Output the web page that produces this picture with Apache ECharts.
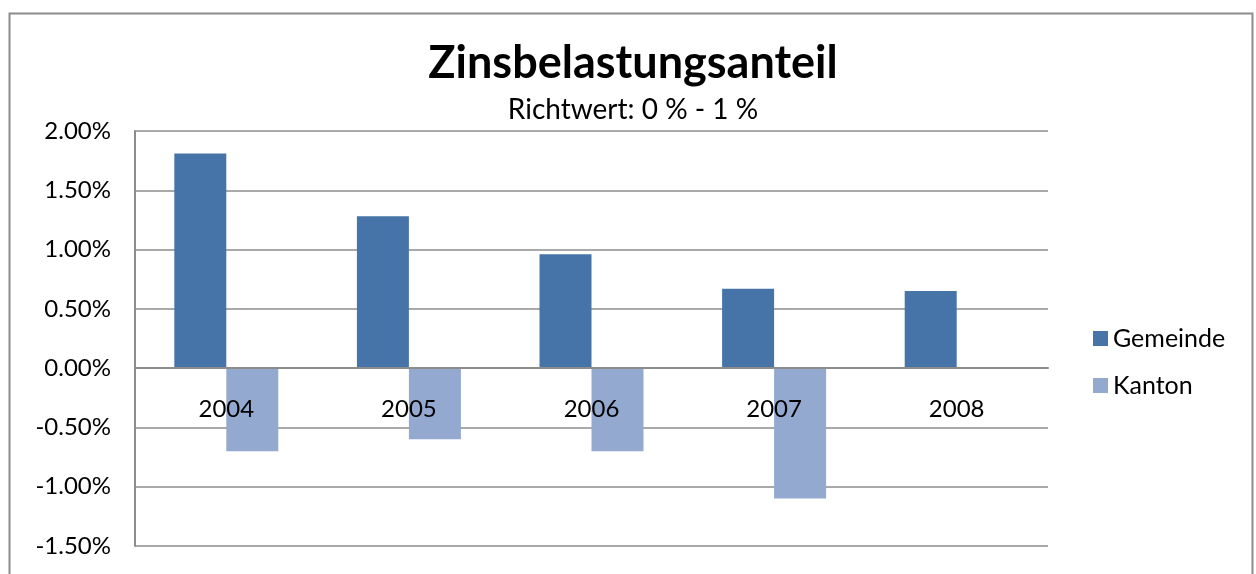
<!DOCTYPE html>
<html>
<head>
<meta charset="utf-8">
<script src="https://cdn.jsdelivr.net/npm/echarts@6/dist/echarts.min.js"></script>
<style>
  html, body { margin: 0; padding: 0; background: #fff; }
  #chart { width: 1256px; height: 574px; }
</style>
</head>
<body>
<div id="chart"></div>
<script>
const years = ['2004', '2005', '2006', '2007', '2008'];
const gemeinde = [1.81, 1.28, 0.96, 0.67, 0.65];
const kanton = [-0.70, -0.60, -0.70, -1.10, null];
const yTicks = { min: -1.5, max: 2.0, step: 0.5 };

const font = 'Lato, "Open Sans", sans-serif';
const chart = echarts.init(document.getElementById('chart'));

// zero line sits 1.5/3.5 of the plot height above the bottom edge
const plotTop = 131, plotBottom = 546;
const zeroOffset = (plotBottom - plotTop) * (0 - yTicks.min) / (yTicks.max - yTicks.min);

chart.setOption({
  backgroundColor: '#fff',
  animation: false,
  graphic: [{
    type: 'rect', left: 7, top: 11,
    shape: { width: 1243, height: 580 },
    style: { fill: 'none', stroke: '#8c8c8c', lineWidth: 2 }
  }],
  title: {
    text: 'Zinsbelastungsanteil',
    subtext: 'Richtwert: 0 % - 1 %',
    left: 628, textAlign: 'center', top: 36, itemGap: 10,
    textStyle: { fontFamily: font, fontSize: 45, fontWeight: 'bold', color: '#000' },
    subtextStyle: { fontFamily: font, fontSize: 28, color: '#000' }
  },
  legend: {
    orient: 'vertical', left: 1088, top: 321, itemGap: 22,
    itemWidth: 15, itemHeight: 15, icon: 'rect',
    textStyle: { fontFamily: font, fontSize: 25, color: '#000' },
    data: ['Gemeinde', 'Kanton']
  },
  grid: { left: 135, right: 208, top: plotTop, bottom: 574 - plotBottom, outerBoundsMode: 'none' },
  xAxis: {
    type: 'category', data: years, position: 'bottom', offset: -zeroOffset, z: 10,
    axisLine: { onZero: false, lineStyle: { color: '#8c8c8c', width: 2 } },
    axisTick: { show: false },
    axisLabel: { margin: 29, fontFamily: font, fontSize: 24, color: '#000' }
  },
  yAxis: {
    type: 'value', min: yTicks.min, max: yTicks.max, interval: yTicks.step,
    axisLine: { show: true, lineStyle: { color: '#8c8c8c', width: 2 } },
    axisTick: { show: false },
    splitLine: { lineStyle: { color: '#8c8c8c', width: 1.5 } },
    axisLabel: {
      margin: 24, fontFamily: font, fontSize: 24, color: '#000',
      formatter: v => v.toFixed(2) + '%'
    }
  },
  series: [
    { name: 'Gemeinde', type: 'bar', data: gemeinde, barWidth: 52, barGap: '0%',
      itemStyle: { color: '#4674a8' } },
    { name: 'Kanton', type: 'bar', data: kanton, barWidth: 52,
      itemStyle: { color: '#94a9d0' } }
  ]
});
</script>
</body>
</html>
